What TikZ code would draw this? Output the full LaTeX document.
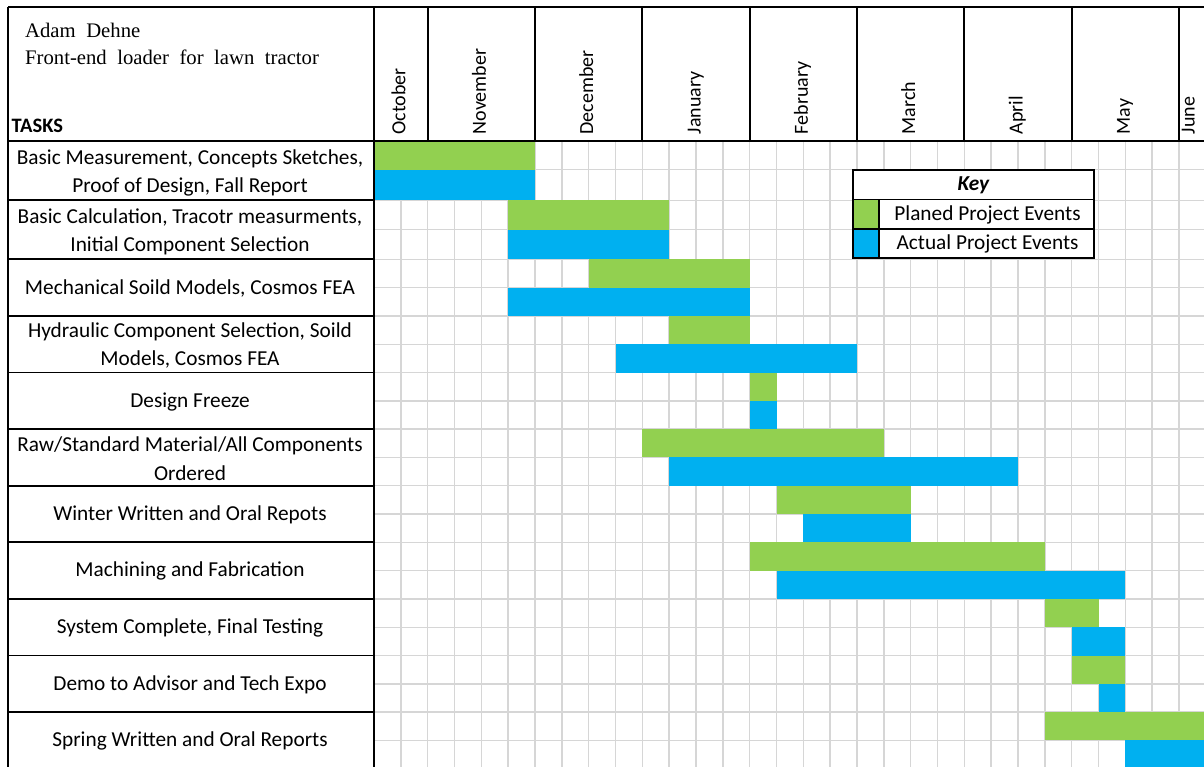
\documentclass[tikz,border=0pt]{standalone}
\usepackage{fontspec}
\setmainfont{Carlito}
\newfontfamily\timesfont{Liberation Serif}
\definecolor{plangreen}{HTML}{92D050}
\definecolor{actblue}{HTML}{00B0F0}
\definecolor{gridgray}{HTML}{D6D6D6}
\newcommand\titlesetup{\timesfont\fontsize{20.7}{26}\selectfont}
\tikzset{
  gridline/.style={draw=gridgray, line width=1.4pt},
  border/.style={draw=black, line width=1.9pt},
  planbar/.style={fill=plangreen},
  actbar/.style={fill=actblue},
  tasktext/.style={font=\fontsize{21.3}{28.3}\selectfont, align=center, inner sep=0pt},
  monthtext/.style={font=\fontsize{20}{24}\selectfont, rotate=90, anchor=west, inner sep=0pt, text height=14pt, text depth=5pt},
  keytext/.style={font=\fontsize{21.3}{24}\selectfont, inner sep=0pt},
  titletext/.style={font=\titlesetup, anchor=base west, inner sep=0pt},
}
\def\rowtop{{141,200.3,259.3,315.9,372.5,429.1,485.7,542.3,598.9,655.5,712.1,768.7}}
\def\rowmid{{169.5,229.5,287.6,344.2,400.8,457.4,514,570.6,627.2,683.8,740.4}}
\begin{document}
\begin{tikzpicture}[x=1pt,y=-1pt]
\useasboundingbox (0,0) rectangle (1204,766);
\fill[white] (0,0) rectangle (1204,766);
\begin{scope}
\clip (0,0) rectangle (1204,766);
% light grid
\foreach \k in {1,...,31}
  \draw[gridline] ({374+\k*26.833},141) -- ({374+\k*26.833},770);
\foreach \yy in {169.5,200.3,229.5,259.3,287.6,315.9,344.2,372.5,400.8,429.1,457.4,485.7,514,542.3,570.6,598.9,627.2,655.5,683.8,712.1,740.4}
  \draw[gridline] (374,\yy) -- (1210,\yy);
% bars: row / plan start / plan end / actual start / actual end
\foreach \r/\a/\b/\c/\d in {0/0/6/0/6, 1/5/11/5/11, 2/8/14/5/14, 3/11/14/9/18, 4/14/15/14/15,
    5/10/19/11/24, 6/15/20/16/20, 7/14/25/15/28, 8/25/27/26/28, 9/26/28/27/28, 10/25/31/28/31} {
  \pgfmathsetmacro\yt{\rowtop[\r]}
  \pgfmathsetmacro\ym{\rowmid[\r]}
  \pgfmathsetmacro\yb{\rowtop[\r+1]}
  \fill[planbar] ({374+\a*26.833},\yt) rectangle ({374+\b*26.833},\ym);
  \fill[actbar] ({374+\c*26.833},\ym) rectangle ({374+\d*26.833},\yb);
}
% black borders
\draw[border] (8,7) -- (1210,7);
\draw[border] (8,141) -- (1210,141);
\draw[border] (8,7) -- (8,770);
\draw[border] (374,7) -- (374,770);
\foreach \k in {2,6,10,14,18,22,26,30}
  \draw[border] ({374+\k*26.833},7) -- ({374+\k*26.833},141);
\foreach \r in {1,...,10} {
  \pgfmathsetmacro\yt{\rowtop[\r]}
  \draw[border] (8,\yt) -- (374,\yt);
}
\end{scope}
% title
\node[titletext] (name) at (25,37.7) {\spaceskip=10.5pt\relax Adam Dehne};
\node[titletext] (project) at (25,64.3) {\spaceskip=10.5pt\relax Front-end loader for lawn tractor};
\node[anchor=base west, inner sep=0pt, font=\bfseries\fontsize{20.5}{24}\selectfont] (tasks) at (11.5,132.7) {TASKS};
% months
\node[monthtext] (oct) at (400.8,134.5) {October};
\node[monthtext] (nov) at (481.3,134.5) {November};
\node[monthtext] (dec) at (588.7,134.5) {December};
\node[monthtext] (jan) at (696,134.5) {January};
\node[monthtext] (feb) at (803.3,134.5) {February};
\node[monthtext] (mar) at (910.7,134.5) {March};
\node[monthtext] (apr) at (1018,134.5) {April};
\node[monthtext] (may) at (1125.3,134.5) {May};
\node[monthtext] (jun) at (1190,134.5) {June};
% tasks
\node[tasktext] (t1) at (190,173) {Basic Measurement, Concepts Sketches,\\Proof of Design, Fall Report};
\node[tasktext] (t2) at (190,232) {Basic Calculation, Tracotr measurments,\\Initial Component Selection};
\node[tasktext] (t3) at (190,288.3) {Mechanical Soild Models, Cosmos FEA};
\node[tasktext] (t4) at (190,345.5) {Hydraulic Component Selection, Soild\\Models, Cosmos FEA};
\node[tasktext] (t5) at (190,401.5) {Design Freeze};
\node[tasktext] (t6) at (190,458.7) {Raw/Standard Material/All Components\\Ordered};
\node[tasktext] (t7) at (190,514.7) {Winter Written and Oral Repots};
\node[tasktext] (t8) at (190,571.3) {Machining and Fabrication};
\node[tasktext] (t9) at (190,627.9) {System Complete, Final Testing};
\node[tasktext] (t10) at (190,684.5) {Demo to Advisor and Tech Expo};
\node[tasktext] (t11) at (190,741.1) {Spring Written and Oral Reports};
% key
\draw[border, fill=white] (852.7,170) rectangle (1094,258.3);
\fill[plangreen] (852.7,199.5) rectangle (879.3,228.7);
\fill[actblue] (852.7,228.7) rectangle (879.3,258.3);
\draw[border] (852.7,199.5) -- (1094,199.5);
\draw[border] (852.7,228.7) -- (1094,228.7);
\draw[border] (879.3,199.5) -- (879.3,258.3);
\draw[border] (852.7,170) rectangle (1094,258.3);
\node[keytext, font=\bfseries\itshape\fontsize{21.3}{24}\selectfont] (key) at (973.3,185.5) {Key};
\node[keytext] (keyplan) at (987.5,215) {Planed Project Events};
\node[keytext] (keyact) at (987.5,244.3) {Actual Project Events};
\end{tikzpicture}
\end{document}
